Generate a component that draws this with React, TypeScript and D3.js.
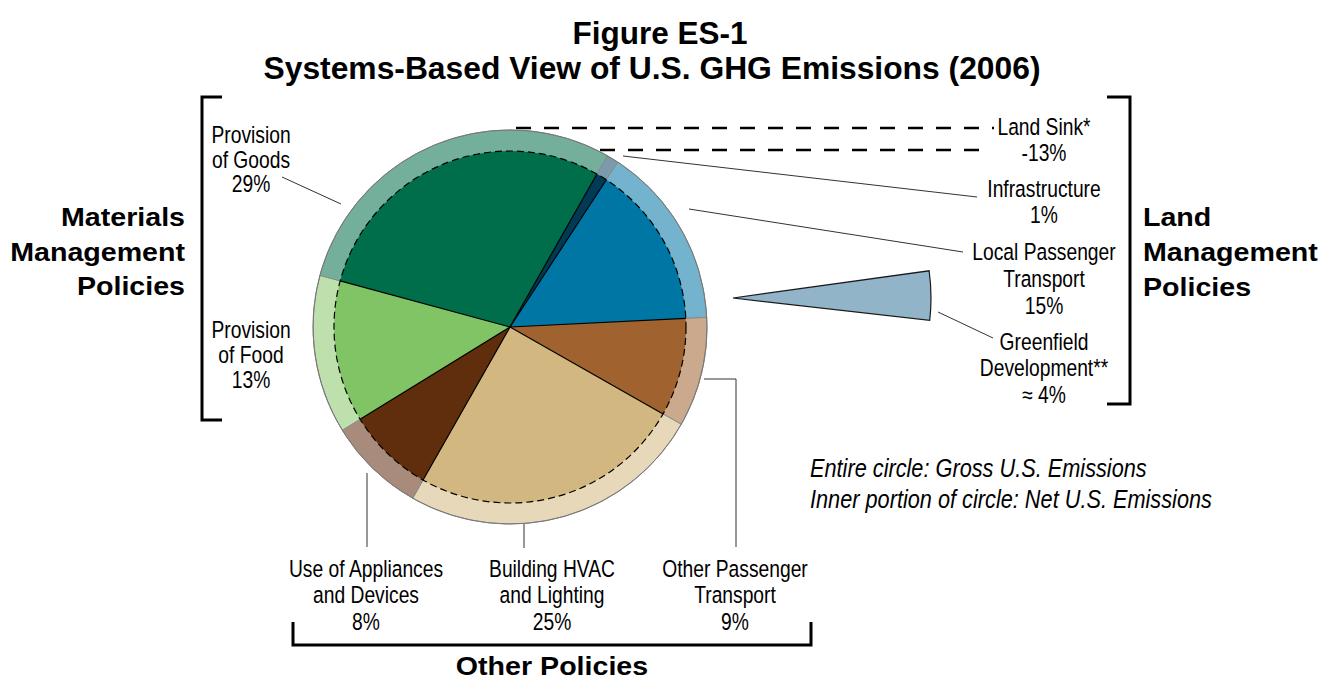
import * as d3 from 'd3';

// Systems-based view of U.S. GHG emissions, 2006 (shares of gross emissions, %)
const sectors = [
  'Infrastructure',
  'Local Passenger Transport',
  'Other Passenger Transport',
  'Building HVAC and Lighting',
  'Use of Appliances and Devices',
  'Provision of Food',
  'Provision of Goods',
];
const shares = [1, 15, 9, 25, 8, 13, 29];
const innerColors = ['#003a55', '#0076a4', '#a0622e', '#d2b880', '#612e0d', '#80c465', '#006e4a'];
const ringColors = ['#7b9bac', '#73b3cd', '#cba98d', '#e6d8b8', '#a88b7b', '#bee0ac', '#74af9c'];

const greenfieldShare = 4;
const landSinkShare = -13;

const FONT = '"Liberation Sans", Arial, Helvetica, sans-serif';

const W = 1321;
const H = 681;
const cx = 510;
const cy = 327;
const R = 197;
const r = 176;
const startDeg = 29.6;

type Label = { x: number; y: number; lines: string[]; gap: number };

const sliceLabels: Label[] = [
  { x: 251, y: 143, gap: 24.5, lines: ['Provision', 'of Goods', '29%'] },
  { x: 251, y: 338, gap: 24.8, lines: ['Provision', 'of Food', '13%'] },
  { x: 1044, y: 134.5, gap: 26.5, lines: ['Land Sink*', `${landSinkShare}%`] },
  { x: 1044, y: 196.5, gap: 26.5, lines: ['Infrastructure', '1%'] },
  { x: 1044, y: 259.5, gap: 27, lines: ['Local Passenger', 'Transport', '15%'] },
  { x: 1044, y: 349.5, gap: 26.5, lines: ['Greenfield', 'Development**', `≈ ${greenfieldShare}%`] },
  { x: 366, y: 576.5, gap: 26.5, lines: ['Use of Appliances', 'and Devices', '8%'] },
  { x: 552, y: 576.5, gap: 26.5, lines: ['Building HVAC', 'and Lighting', '25%'] },
  { x: 735, y: 576.5, gap: 26.5, lines: ['Other Passenger', 'Transport', '9%'] },
];

const leaders: [number, number][][] = [
  [[282, 177], [341, 204]],
  [[623, 156], [977, 197]],
  [[689, 209], [963, 252]],
  [[938, 312], [993, 338]],
  [[704, 379], [736, 379], [736, 547]],
  [[524, 522], [524, 548]],
  [[367, 473], [367, 547]],
];

function Txt({
  x,
  y,
  sx,
  size,
  anchor = 'middle',
  weight = 'normal',
  italic = false,
  children,
}: {
  x: number;
  y: number;
  sx: number;
  size: number;
  anchor?: 'start' | 'middle' | 'end';
  weight?: string;
  italic?: boolean;
  children: string;
}) {
  return (
    <text
      transform={`translate(${x},${y}) scale(${sx},1)`}
      textAnchor={anchor}
      fontFamily={FONT}
      fontSize={size}
      fontWeight={weight}
      fontStyle={italic ? 'italic' : 'normal'}
      fill="#000"
    >
      {children}
    </text>
  );
}

export default function App() {
  const a0 = (startDeg * Math.PI) / 180;
  const pie = d3
    .pie<number>()
    .sort(null)
    .value((d) => d)
    .startAngle(a0)
    .endAngle(a0 + 2 * Math.PI);
  const arcs = pie(shares);

  const outerArc = d3.arc<d3.PieArcDatum<number>>().innerRadius(0).outerRadius(R);
  const innerArc = d3.arc<d3.PieArcDatum<number>>().innerRadius(0).outerRadius(r);

  // greenfield wedge drawn apart, to the right of the pie
  const gAngle = (greenfieldShare / 100) * 2 * Math.PI;
  const gMid = (89.3 * Math.PI) / 180;
  const greenArc = d3.arc()({
    innerRadius: 0,
    outerRadius: 198,
    startAngle: gMid - gAngle / 2,
    endAngle: gMid + gAngle / 2,
  }) as string;

  const line = d3.line();

  return (
    <svg
      width={W}
      height={H}
      style={{ position: 'absolute', left: 0, top: 0, background: '#fff' }}
    >
      {/* title */}
      <text x={660} y={44} textAnchor="middle" fontFamily={FONT} fontWeight="bold" fontSize={31.5}>
        Figure ES-1
      </text>
      <text x={652} y={79} textAnchor="middle" fontFamily={FONT} fontWeight="bold" fontSize={31.8}>
        Systems-Based View of U.S. GHG Emissions (2006)
      </text>

      {/* land sink dashes */}
      <g stroke="#000" strokeWidth={2.6} strokeDasharray="15,13">
        <line x1={516} x2={994} y1={128} y2={128} />
        <line x1={516} x2={986} y1={150} y2={150} />
      </g>

      {/* leader lines */}
      <g fill="none" stroke="#333" strokeWidth={1}>
        {leaders.map((pts, i) => (
          <path key={i} d={line(pts) as string} />
        ))}
      </g>

      {/* pie */}
      <g transform={`translate(${cx},${cy})`}>
        {arcs.map((a, i) => (
          <path key={'o' + i} d={outerArc(a) as string} fill={ringColors[i]} stroke="#8a8a8a" strokeWidth={1}>
            <title>{sectors[i]}</title>
          </path>
        ))}
        {arcs.map((a, i) => (
          <path key={'i' + i} d={innerArc(a) as string} fill={innerColors[i]} />
        ))}
        {arcs.map((a, i) => (
          <line
            key={'e' + i}
            x1={0}
            y1={0}
            x2={r * Math.sin(a.startAngle)}
            y2={-r * Math.cos(a.startAngle)}
            stroke="#000"
            strokeWidth={1.2}
          />
        ))}
        <circle r={r} fill="none" stroke="#000" strokeWidth={1.2} strokeDasharray="7,4" />
        <circle r={R} fill="none" stroke="#777" strokeWidth={1} />
      </g>

      {/* greenfield wedge */}
      <g transform="translate(733,298)">
        <path d={greenArc} fill="#91b4c8" stroke="#1a1a1a" strokeWidth={1.2} />
      </g>

      {/* slice labels */}
      {sliceLabels.map((lb, i) =>
        lb.lines.map((t, j) => (
          <Txt key={i + '-' + j} x={lb.x} y={lb.y + j * lb.gap} sx={0.82} size={23.5}>
            {t}
          </Txt>
        ))
      )}

      {/* brackets */}
      <g fill="none" stroke="#000" strokeWidth={3}>
        <path d="M222,97H202V420H222" />
        <path d="M1107,97H1130V404H1107" />
        <path d="M293,622V645H811V622" />
      </g>

      {/* policy group labels */}
      {['Materials', 'Management', 'Policies'].map((t, j) => (
        <Txt key={'m' + j} x={185} y={[226, 261, 295][j]} sx={1.1} size={26} anchor="end" weight="bold">
          {t}
        </Txt>
      ))}
      {['Land', 'Management', 'Policies'].map((t, j) => (
        <Txt key={'l' + j} x={1143} y={[226, 261, 296][j]} sx={1.1} size={26} anchor="start" weight="bold">
          {t}
        </Txt>
      ))}
      <Txt x={552} y={674.5} sx={1.1} size={26} weight="bold">
        Other Policies
      </Txt>

      {/* note */}
      <Txt x={810} y={476.5} sx={0.82} size={26.5} anchor="start" italic>
        Entire circle: Gross U.S. Emissions
      </Txt>
      <Txt x={810} y={507.5} sx={0.82} size={26.5} anchor="start" italic>
        Inner portion of circle: Net U.S. Emissions
      </Txt>
    </svg>
  );
}
